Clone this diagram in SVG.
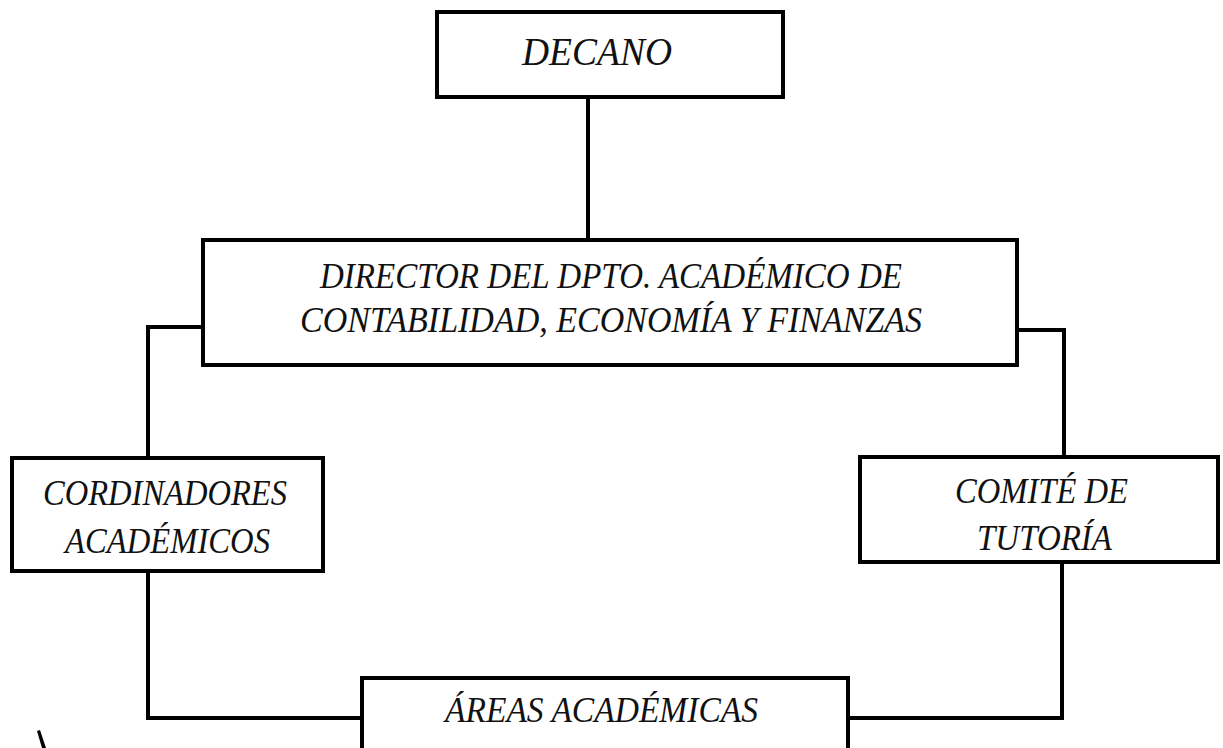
<svg xmlns="http://www.w3.org/2000/svg" width="1223" height="748" viewBox="0 0 1223 748">
<style>
.box{fill:#fff;stroke:#000;stroke-width:4}
.conn{fill:none;stroke:#000;stroke-width:4;stroke-linejoin:miter}
.t{font-family:"Liberation Serif","Times New Roman",serif;font-style:italic;font-size:35px;fill:#111}
</style>
<rect width="1223" height="748" fill="#fff"/>
<g id="connectors">
<path class="conn" d="M588 97V240"/>
<path class="conn" d="M203 327H148V458"/>
<path class="conn" d="M148 571V718H362"/>
<path class="conn" d="M1017 330H1064V457"/>
<path class="conn" d="M1062 562V718H848"/>
</g>
<g id="decano">
<rect class="box" x="437" y="12" width="346" height="85"/>
<text class="t" x="522" y="65" style="font-size:40px" textLength="150" lengthAdjust="spacingAndGlyphs">DECANO</text>
</g>
<g id="director">
<rect class="box" x="203" y="240" width="814" height="125"/>
<text class="t" x="320" y="288" textLength="582" lengthAdjust="spacingAndGlyphs">DIRECTOR DEL DPTO. ACADÉMICO DE</text>
<text class="t" x="300" y="332" textLength="622" lengthAdjust="spacingAndGlyphs">CONTABILIDAD, ECONOMÍA Y FINANZAS</text>
</g>
<g id="cordinadores">
<rect class="box" x="12" y="458" width="311" height="113"/>
<text class="t" x="43" y="505" textLength="244" lengthAdjust="spacingAndGlyphs">CORDINADORES</text>
<text class="t" x="65" y="553" textLength="205" lengthAdjust="spacingAndGlyphs">ACADÉMICOS</text>
</g>
<g id="comite">
<rect class="box" x="860" y="457" width="358" height="105"/>
<text class="t" x="955" y="503" textLength="173" lengthAdjust="spacingAndGlyphs">COMITÉ DE</text>
<text class="t" x="977" y="550" textLength="135" lengthAdjust="spacingAndGlyphs">TUTORÍA</text>
</g>
<g id="areas">
<rect class="box" x="362" y="678" width="486" height="90"/>
<text class="t" x="445" y="722" textLength="313" lengthAdjust="spacingAndGlyphs">ÁREAS ACADÉMICAS</text>
</g>
<path d="M37 731L40 730L46 748L42 748Z" fill="#000"/>
</svg>
